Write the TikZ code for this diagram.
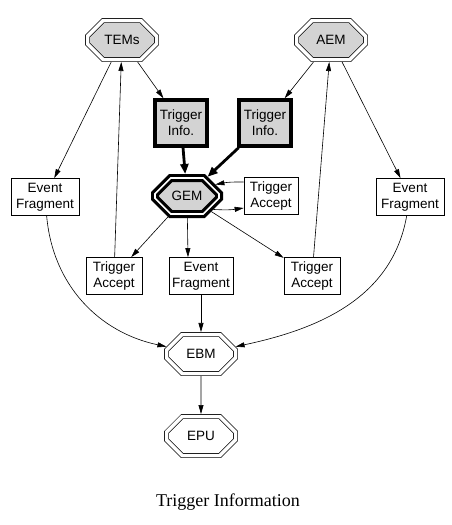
\documentclass[tikz,border=0pt]{standalone}
\usepackage{fontspec}
\setmainfont{Liberation Serif}
\setsansfont{Liberation Sans}
\usetikzlibrary{arrows.meta, shapes.misc}
\definecolor{nodegray}{RGB}{211,211,211}

\begin{document}
\begin{tikzpicture}[
    x=1pt, y=1pt,
    >={Triangle[length=9pt, width=5pt]},
    module/.style={chamfered rectangle, chamfered rectangle xsep=15pt, chamfered rectangle ysep=10pt, draw, line width=0.7pt, double=white, double distance=3.5pt, minimum width=69pt, minimum height=39pt, inner sep=1pt, outer sep=2.5pt, font=\sffamily\fontsize{13.5}{16}\selectfont},
    gemnode/.style={module, line width=3.2pt, double distance=1.6pt, minimum width=64pt, minimum height=36pt, outer sep=4pt},
    infobox/.style={draw, line width=3.5pt, fill=nodegray, minimum width=52pt, minimum height=46pt, inner sep=2pt, align=center, font=\sffamily\fontsize{13.5}{16}\selectfont},
    msgbox/.style={draw, line width=0.7pt, fill=white, minimum height=37pt, inner sep=2pt, align=center, font=\sffamily\fontsize{13.5}{16}\selectfont},
    link/.style={->, line width=0.6pt},
    biglink/.style={-{Triangle[length=10pt, width=8pt]}, line width=2.8pt}
]
  \useasboundingbox (0,0) rectangle (452,-525);

  \node[module, fill=nodegray] (TEMs) at (122,-40) {TEMs};
  \node[module, fill=nodegray] (AEM) at (331,-40) {AEM};
  \node[infobox] (TI1) at (181,-123) {Trigger\\Info.};
  \node[infobox] (TI2) at (265,-123) {Trigger\\Info.};
  \node[gemnode, fill=nodegray] (GEM) at (187,-196) {GEM};
  \node[msgbox, minimum width=54pt] (TAr) at (271,-196) {Trigger\\Accept};
  \node[msgbox, minimum width=68pt] (EFl) at (45,-197) {Event\\Fragment};
  \node[msgbox, minimum width=68pt] (EFr) at (410,-197) {Event\\Fragment};
  \node[msgbox, minimum width=56pt] (TAl) at (114,-276) {Trigger\\Accept};
  \node[msgbox, minimum width=64pt] (EFm) at (201,-276) {Event\\Fragment};
  \node[msgbox, minimum width=56pt] (TAb) at (312,-276) {Trigger\\Accept};
  \node[module, fill=white] (EBM) at (201,-354) {EBM};
  \node[module, fill=white] (EPU) at (201,-436) {EPU};

  \draw[link] (TEMs) -- (EFl);
  \draw[link] (TEMs) -- (TI1);
  \draw[link] (TAl) -- (TEMs);
  \draw[link] (AEM) -- (TI2);
  \draw[link] (AEM) -- (EFr);
  \draw[link] (TAb) -- (AEM);

  \draw[biglink] (TI1) -- (GEM);
  \draw[biglink] (TI2) -- (GEM);

  \draw[link] ([yshift=14pt]TAr.west) to[bend right=6] (GEM.22);
  \draw[link] (GEM.-27) to[bend right=6] ([yshift=-12pt]TAr.west);
  \draw[link] (GEM) -- (TAl);
  \draw[link] (GEM) -- ([xshift=-13pt]EFm.north);
  \draw[link] (GEM) -- (TAb);

  % Fragments to the builder
  \draw[link] (EFl) to[out=-85, in=168] (EBM);
  \draw[link] (EFm) -- (EBM);
  \draw[link] (EFr) to[out=-100, in=12] (EBM);
  \draw[link] (EBM) -- (EPU);

  \node[font=\fontsize{18}{20}\selectfont] (caption) at (228,-502) {Trigger Information};
\end{tikzpicture}
\end{document}
